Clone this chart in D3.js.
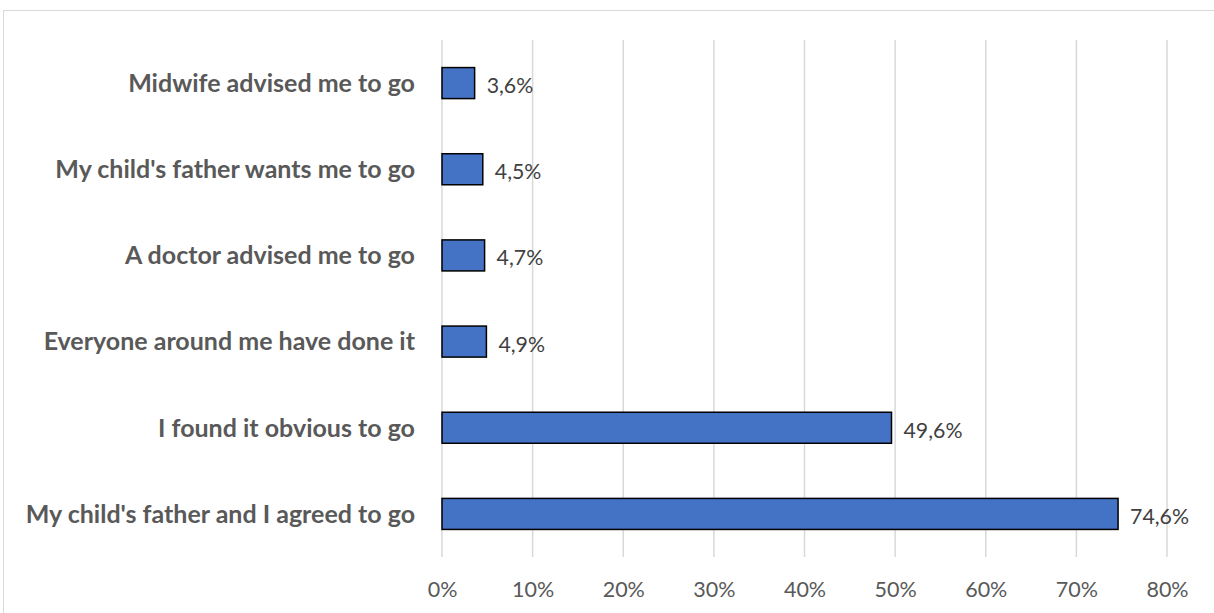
<!DOCTYPE html>
<html><head><meta charset="utf-8">
<script src="https://cdn.jsdelivr.net/npm/d3@7"></script>
<style>body{margin:0;background:#fff}</style>
</head><body>
<script>
const categories = ["Midwife advised me to go","My child's father wants me to go","A doctor advised me to go","Everyone around me have done it","I found it obvious to go","My child's father and I agreed to go"];
const values = [3.6,4.5,4.7,4.9,49.6,74.6];
const valueLabels = ["3,6%","4,5%","4,7%","4,9%","49,6%","74,6%"];
const ticks = [0,10,20,30,40,50,60,70,80];

const W=1214,H=613;
const svg=d3.select("body").append("svg").attr("width",W).attr("height",H);
svg.append("rect").attr("x",3.5).attr("y",10.5).attr("width",W).attr("height",H).attr("fill","#fff").attr("stroke","#d9d9d9").attr("stroke-width",1);

const x=d3.scaleLinear().domain([0,80]).range([442,1167]);
const y=d3.scaleBand().domain(categories).range([40,557]).paddingInner(0.64).paddingOuter(0.32);

const font="Lato, sans-serif";
svg.append("g").selectAll("line").data(ticks).join("line")
  .attr("x1",d=>x(d)).attr("x2",d=>x(d)).attr("y1",40).attr("y2",557)
  .attr("stroke","#d9d9d9").attr("stroke-width",1.5);

const xa=d3.axisBottom(x).tickValues(ticks).tickFormat(d=>d+"%").tickSize(0).tickPadding(0);
const gx=svg.append("g").attr("transform","translate(0,557)").call(xa);
gx.select(".domain").remove();
gx.selectAll("text").attr("y",32).attr("dy","0.35em").attr("font-family",font).attr("font-size",21.5).attr("fill","#595959");

const ya=d3.axisLeft(y).tickSize(0).tickPadding(27);
const gy=svg.append("g").attr("transform","translate(442,0)").call(ya);
gy.select(".domain").remove();
gy.selectAll("text").attr("font-family",font).attr("font-weight","bold").attr("font-size",25).attr("fill","#595959").attr("dy","0.35em");

svg.append("g").selectAll("rect").data(values).join("rect")
  .attr("x",x(0)).attr("y",(d,i)=>y(categories[i]))
  .attr("width",d=>x(d)-x(0)).attr("height",y.bandwidth())
  .attr("fill","#4472C4").attr("stroke","#000").attr("stroke-width",1.5);

svg.append("g").selectAll("text").data(values).join("text")
  .attr("x",d=>x(d)+12).attr("y",(d,i)=>y(categories[i])+y.bandwidth()/2+2.5)
  .attr("dy","0.35em").attr("font-family",font).attr("font-size",21.3).attr("fill","#404040")
  .text((d,i)=>valueLabels[i]);
</script>
</body></html>
